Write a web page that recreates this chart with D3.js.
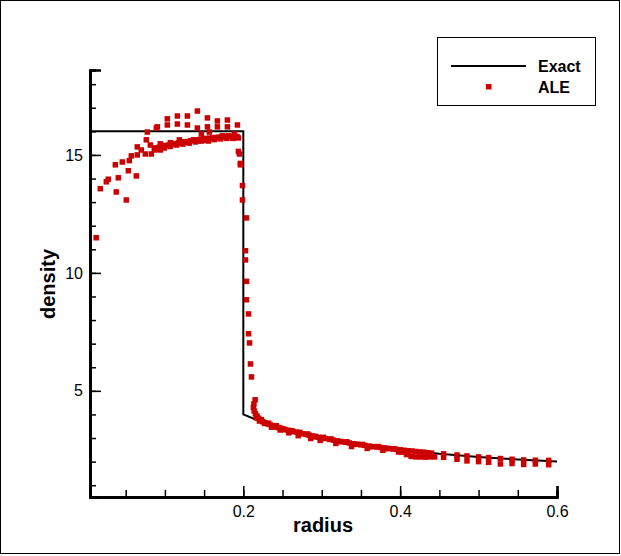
<!DOCTYPE html>
<html>
  <head>
    <meta charset="UTF-8" />
    <script src="https://cdnjs.cloudflare.com/ajax/libs/d3/7.8.5/d3.min.js"></script>
    <style>
      body { margin: 0; background: #fff; }
      text { font-family: "Liberation Sans", Arial, sans-serif; fill: #000; }
    </style>
  </head>
  <body>
    <svg id="chart" width="621" height="556"></svg>
    <script>
      // exact solution
      let exactR = [0.0045, 0.2, 0.2, 0.22, 0.25, 0.28, 0.3, 0.33, 0.36, 0.4, 0.45, 0.5, 0.55, 0.6];
      let exactRho = [16, 16, 4, 3.73, 3.4, 3.14, 3.0, 2.82, 2.67, 2.5, 2.33, 2.2, 2.09, 2.0];

      // ALE points: plateau region
      let plateauR = [0.0124, 0.0176, 0.0253, 0.0278, 0.0368, 0.038, 0.0406, 0.0457, 0.0508, 0.0534, 0.0546, 0.0572,
        0.0636, 0.0648, 0.0648, 0.0699, 0.075, 0.0763, 0.0776, 0.0814, 0.0827, 0.0865, 0.0891, 0.0904, 0.0916,
        0.0942, 0.0942, 0.0993, 0.1031, 0.1031, 0.1044, 0.107, 0.1108, 0.1159, 0.1159, 0.1184, 0.1235, 0.1287,
        0.1287, 0.13, 0.1363, 0.1414, 0.1414, 0.1427, 0.1465, 0.149, 0.1542, 0.1542, 0.1555, 0.1567, 0.1606,
        0.1669, 0.1669, 0.1682, 0.1733, 0.1797, 0.1797, 0.181, 0.1861, 0.1886, 0.1925, 0.1937,
        0.088, 0.093, 0.097, 0.101, 0.105, 0.109, 0.113, 0.117, 0.121, 0.125, 0.129, 0.133, 0.137, 0.141, 0.145,
        0.149, 0.153, 0.157, 0.161, 0.165, 0.169, 0.173, 0.177, 0.181, 0.185, 0.189, 0.192,
        0.091, 0.099, 0.107, 0.115, 0.123, 0.131, 0.139, 0.147, 0.155, 0.163, 0.171, 0.179, 0.187];
      let plateauRho = [11.49, 13.57, 13.86, 13.97, 14.58, 13.43, 14.03, 14.7, 13.09, 14.33, 14.76, 14.96,
        14.11, 15.0, 15.34, 15.21, 15.04, 15.64, 15.97, 15.42, 15.04, 15.21, 16.14, 16.19, 15.25,
        15.47, 15.21, 15.3, 16.27, 16.53, 15.38, 15.52, 15.47, 16.31, 16.65, 15.64, 15.55, 16.27,
        16.65, 15.55, 15.64, 16.86, 16.14, 15.59, 15.89, 15.64, 16.57, 16.19, 15.59, 15.97, 15.68,
        16.44, 16.19, 15.72, 15.81, 16.48, 16.19, 15.81, 15.72, 15.89, 16.27, 15.72,
        15.3, 15.33, 15.36, 15.4, 15.42, 15.45, 15.48, 15.5, 15.53, 15.55, 15.57, 15.6, 15.62, 15.64, 15.66,
        15.68, 15.7, 15.71, 15.73, 15.74, 15.75, 15.76, 15.77, 15.78, 15.79, 15.8, 15.78,
        15.24, 15.31, 15.36, 15.42, 15.46, 15.5, 15.55, 15.59, 15.62, 15.65, 15.68, 15.7, 15.7];

      // ALE points: shock front
      let shockR = [0.1937, 0.195, 0.1963, 0.1963, 0.1989, 0.1989, 0.204, 0.2027, 0.2027, 0.204, 0.204,
        0.2066, 0.2066, 0.2079, 0.2091, 0.2104];
      let shockRho = [15.15, 15.04, 14.64, 14.58, 13.7, 13.09, 12.33, 10.94, 10.55, 9.64, 8.86,
        8.26, 7.42, 7.03, 6.14, 5.59];

      // ALE points: behind the shock
      let tailR = [0.2151, 0.2135, 0.2129, 0.2138, 0.2155, 0.2175, 0.2195, 0.2225, 0.225, 0.228, 0.231, 0.234,
        0.237, 0.24, 0.243, 0.246, 0.25, 0.253, 0.257, 0.26, 0.264, 0.268, 0.272, 0.276, 0.28, 0.284, 0.288,
        0.292, 0.296, 0.3, 0.305, 0.31, 0.315, 0.32, 0.325, 0.33, 0.335, 0.34, 0.345, 0.35, 0.355, 0.36,
        0.365, 0.37, 0.375, 0.38, 0.385, 0.39, 0.395, 0.4, 0.405, 0.41, 0.415, 0.42, 0.425, 0.43, 0.435, 0.44,
        0.223, 0.232, 0.242, 0.252, 0.262, 0.272, 0.282, 0.292, 0.302, 0.312, 0.322, 0.332, 0.342, 0.352,
        0.362, 0.372, 0.382, 0.392,
        0.2165, 0.2205, 0.227, 0.236, 0.247, 0.258, 0.27, 0.286, 0.298, 0.318, 0.338, 0.358, 0.378, 0.398,
        0.402, 0.408, 0.414, 0.42, 0.426, 0.432, 0.438, 0.444,
        0.4554, 0.4554, 0.4725, 0.4725, 0.4852, 0.4852, 0.5, 0.5, 0.5128, 0.5128, 0.5278, 0.5278,
        0.5427, 0.5427, 0.5575, 0.5575, 0.5724, 0.5724, 0.5894, 0.5894];
      let tailRho = [4.62, 4.45, 4.3, 4.15, 4.03, 3.93, 3.84, 3.76, 3.69, 3.64, 3.6, 3.57,
        3.53, 3.5, 3.45, 3.44, 3.4, 3.36, 3.33, 3.3, 3.27, 3.25, 3.2, 3.18, 3.15, 3.12, 3.09,
        3.07, 3.03, 3.01, 2.98, 2.94, 2.91, 2.88, 2.85, 2.82, 2.79, 2.76, 2.74, 2.71, 2.69, 2.66,
        2.64, 2.62, 2.6, 2.58, 2.56, 2.54, 2.52, 2.5, 2.48, 2.46, 2.45, 2.43, 2.41, 2.4, 2.38, 2.36,
        3.78, 3.63, 3.52, 3.36, 3.31, 3.24, 3.17, 3.05, 3.03, 2.96, 2.85, 2.84, 2.73, 2.73,
        2.63, 2.64, 2.55, 2.55,
        3.86, 3.72, 3.62, 3.46, 3.34, 3.22, 3.1, 2.98, 2.9, 2.77, 2.64, 2.56, 2.48, 2.41,
        2.4, 2.3, 2.22, 2.2, 2.2, 2.19, 2.2, 2.2,
        2.33, 2.18, 2.28, 2.1, 2.24, 2.03, 2.2, 2.0, 2.17, 1.97, 2.13, 1.9,
        2.1, 1.92, 2.07, 1.88, 2.06, 1.9, 2.05, 1.87];

      let xTicks = [0.2, 0.4, 0.6];
      let yTicks = [5, 10, 15];

      let svg = d3.select("#chart");

      // outer frame
      svg.append("rect")
        .attr("x", 0.5).attr("y", 0.5)
        .attr("width", 619).attr("height", 553)
        .attr("fill", "none").attr("stroke", "#000").attr("stroke-width", 1);

      let xScale = d3.scaleLinear().domain([0.0045, 0.6]).range([90, 557]);
      let yScale = d3.scaleLinear().domain([0.5, 18.6]).range([497, 70]);

      // axes (ticks point into the plot)
      let xMinor = d3.range(1, 13).map(i => i * 0.05);
      let xAxisMinor = d3.axisTop(xScale).tickValues(xMinor).tickSize(7).tickFormat("");
      let xAxis = d3.axisBottom(xScale).tickValues(xTicks).tickSize(0).tickPadding(9).tickFormat(d3.format(".1f"));
      let xMajor = d3.axisTop(xScale).tickValues(xTicks).tickSize(11).tickFormat("");

      let gx = svg.append("g").attr("transform", "translate(0,497)");
      gx.call(xAxisMinor);
      gx.append("g").call(xMajor);
      gx.append("g").call(xAxis);

      let yMinor = d3.range(1, 19);
      let yAxisMinor = d3.axisRight(yScale).tickValues(yMinor).tickSize(6).tickFormat("");
      let yAxis = d3.axisLeft(yScale).tickValues(yTicks).tickSize(0).tickPadding(7);
      let yMajor = d3.axisRight(yScale).tickValues(yTicks).tickSize(11).tickFormat("");

      let gy = svg.append("g").attr("transform", "translate(90,0)");
      gy.call(yAxisMinor);
      gy.append("g").call(yMajor);
      gy.append("g").call(yAxis);

      svg.selectAll(".domain").attr("stroke", "#000").attr("stroke-width", 2.5);
      svg.selectAll(".tick line").attr("stroke", "#000").attr("stroke-width", 1.5);
      svg.selectAll(".tick text")
        .style("font-size", "16px")
        .style("font-family", "'Liberation Sans', Arial, sans-serif")
        .attr("fill", "#000");

      // axis titles
      svg.append("text")
        .attr("x", 323).attr("y", 532)
        .attr("text-anchor", "middle")
        .style("font-size", "20px").style("font-weight", "bold")
        .text("radius");
      svg.append("text")
        .attr("transform", "translate(55,284) rotate(-90)")
        .attr("text-anchor", "middle")
        .style("font-size", "20px").style("font-weight", "bold")
        .text("density");

      // exact line
      let line = d3.line().x((d, i) => xScale(exactR[i])).y((d, i) => yScale(exactRho[i]));
      svg.append("path")
        .attr("d", line(exactR))
        .attr("fill", "none").attr("stroke", "#000").attr("stroke-width", 2);

      // ALE markers
      let aleR = plateauR.concat(shockR, tailR);
      let aleRho = plateauRho.concat(shockRho, tailRho);
      let s = 5.5;
      svg.append("g").selectAll("rect")
        .data(aleR)
        .enter()
        .append("rect")
        .attr("x", (d, i) => xScale(d) - s / 2)
        .attr("y", (d, i) => yScale(aleRho[i]) - s / 2)
        .attr("width", s).attr("height", s)
        .attr("fill", "#cc0000");

      // legend
      let lg = svg.append("g");
      lg.append("rect")
        .attr("x", 437.5).attr("y", 37.5).attr("width", 158).attr("height", 68)
        .attr("fill", "#fff").attr("stroke", "#000").attr("stroke-width", 1);
      lg.append("line")
        .attr("x1", 451).attr("x2", 526).attr("y1", 66).attr("y2", 66)
        .attr("stroke", "#000").attr("stroke-width", 2);
      lg.append("rect")
        .attr("x", 486).attr("y", 84).attr("width", s).attr("height", s)
        .attr("fill", "#cc0000");
      lg.append("text").attr("x", 538).attr("y", 71.5)
        .style("font-size", "16px").style("font-weight", "bold").text("Exact");
      lg.append("text").attr("x", 538).attr("y", 92.5)
        .style("font-size", "16px").style("font-weight", "bold").text("ALE");
    </script>
  </body>
</html>
